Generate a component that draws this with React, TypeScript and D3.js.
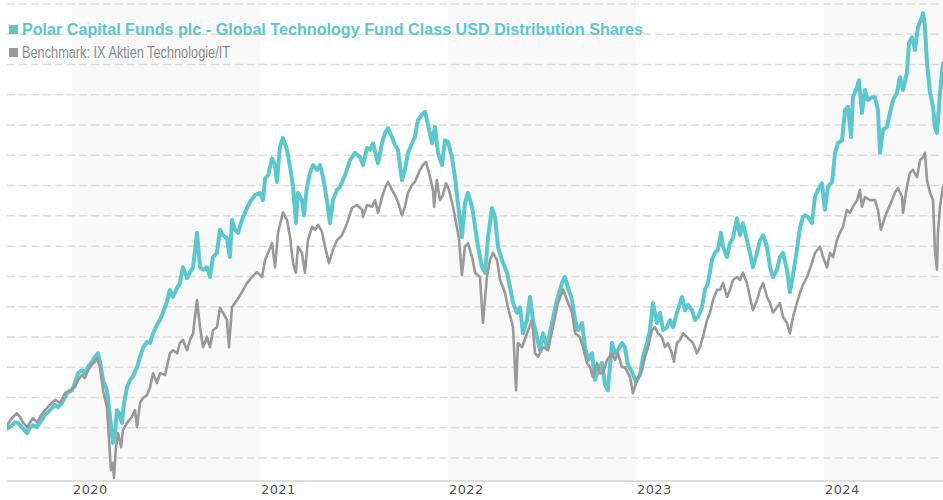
import React from 'react';
import * as d3 from 'd3';

// Dates as decimal years, values as NAV-like index (USD)
const fundDates = [
  2019.654, 2019.681, 2019.697, 2019.713, 2019.739, 2019.761, 2019.777, 2019.793, 2019.814, 2019.830,
  2019.856, 2019.883, 2019.910, 2019.926, 2019.947, 2019.973, 2020.000, 2020.016, 2020.032, 2020.053,
  2020.069, 2020.085, 2020.106, 2020.122, 2020.138, 2020.149, 2020.165, 2020.186, 2020.202, 2020.218,
  2020.229, 2020.239, 2020.250, 2020.266, 2020.277, 2020.293, 2020.309, 2020.324, 2020.346, 2020.362,
  2020.378, 2020.399, 2020.415, 2020.431, 2020.452, 2020.468, 2020.484, 2020.505, 2020.521, 2020.537,
  2020.559, 2020.574, 2020.590, 2020.612, 2020.628, 2020.644, 2020.665, 2020.681, 2020.697, 2020.718,
  2020.734, 2020.750, 2020.771, 2020.787, 2020.803, 2020.824, 2020.840, 2020.851, 2020.867, 2020.883,
  2020.904, 2020.931, 2020.947, 2020.973, 2021.000, 2021.016, 2021.027, 2021.043, 2021.064, 2021.080,
  2021.090, 2021.106, 2021.122, 2021.144, 2021.160, 2021.176, 2021.191, 2021.202, 2021.223, 2021.234,
  2021.250, 2021.266, 2021.282, 2021.303, 2021.319, 2021.335, 2021.356, 2021.372, 2021.388, 2021.410,
  2021.426, 2021.452, 2021.479, 2021.505, 2021.532, 2021.548, 2021.569, 2021.585, 2021.601, 2021.628,
  2021.649, 2021.665, 2021.681, 2021.702, 2021.718, 2021.734, 2021.755, 2021.771, 2021.787, 2021.809,
  2021.824, 2021.840, 2021.862, 2021.878, 2021.894, 2021.915, 2021.931, 2021.947, 2021.968, 2021.984,
  2022.000, 2022.021, 2022.037, 2022.053, 2022.074, 2022.090, 2022.106, 2022.128, 2022.144, 2022.160,
  2022.181, 2022.197, 2022.213, 2022.234, 2022.250, 2022.266, 2022.287, 2022.314, 2022.330, 2022.346,
  2022.367, 2022.383, 2022.399, 2022.420, 2022.436, 2022.452, 2022.473, 2022.489, 2022.505, 2022.527,
  2022.553, 2022.580, 2022.606, 2022.622, 2022.638, 2022.660, 2022.676, 2022.691, 2022.713, 2022.729,
  2022.745, 2022.766, 2022.782, 2022.798, 2022.819, 2022.835, 2022.851, 2022.872, 2022.888, 2022.904,
  2022.926, 2022.941, 2022.957, 2022.979, 2023.000, 2023.021, 2023.037, 2023.059, 2023.074, 2023.090,
  2023.112, 2023.128, 2023.144, 2023.165, 2023.181, 2023.197, 2023.218, 2023.245, 2023.261, 2023.277,
  2023.298, 2023.314, 2023.330, 2023.351, 2023.367, 2023.383, 2023.404, 2023.420, 2023.436, 2023.452,
  2023.463, 2023.484, 2023.500, 2023.516, 2023.537, 2023.553, 2023.569, 2023.590, 2023.606, 2023.622,
  2023.644, 2023.660, 2023.676, 2023.697, 2023.713, 2023.729, 2023.750, 2023.766, 2023.782, 2023.803,
  2023.819, 2023.835, 2023.856, 2023.872, 2023.888, 2023.899, 2023.915, 2023.936, 2023.952, 2023.968,
  2023.989, 2024.005, 2024.021, 2024.043, 2024.059, 2024.074, 2024.096, 2024.112, 2024.128, 2024.144,
  2024.154, 2024.176, 2024.186, 2024.202, 2024.218, 2024.234, 2024.255, 2024.271, 2024.287, 2024.298,
  2024.314, 2024.335, 2024.351, 2024.367, 2024.388, 2024.404, 2024.420, 2024.441, 2024.452, 2024.468,
  2024.484, 2024.500, 2024.521, 2024.527, 2024.537, 2024.548, 2024.553, 2024.564, 2024.580, 2024.590,
  2024.601, 2024.617, 2024.633,
];
const fundValues = [
  44.8, 45.4, 45.9, 45.8, 44.9, 44.1, 45.1, 45.4, 45.1, 45.9,
  47.1, 47.9, 48.8, 48.4, 49.1, 50.7, 51.2, 52.4, 54.0, 54.5,
  54.0, 55.0, 55.9, 56.7, 57.3, 55.9, 52.9, 51.2, 46.8, 42.5,
  44.1, 47.9, 47.4, 45.8, 49.1, 51.7, 52.9, 53.4, 55.0, 56.7,
  58.2, 59.2, 59.0, 60.6, 62.0, 62.8, 64.0, 65.8, 67.8, 66.6,
  68.1, 68.9, 71.5, 69.7, 70.7, 71.5, 77.2, 71.5, 71.1, 71.5,
  69.9, 73.2, 73.9, 77.7, 76.8, 76.3, 73.2, 79.3, 77.7, 77.2,
  79.3, 81.3, 82.3, 83.4, 83.8, 82.6, 86.2, 86.7, 89.5, 88.4,
  85.6, 91.4, 92.9, 90.9, 88.1, 84.8, 78.8, 83.8, 82.6, 80.1,
  84.8, 87.1, 88.4, 87.6, 88.4, 86.4, 82.6, 78.8, 82.6, 84.3,
  84.8, 86.7, 89.2, 90.4, 89.7, 88.4, 91.2, 90.9, 92.0, 88.7,
  92.0, 93.7, 94.5, 93.0, 91.7, 90.9, 85.9, 87.6, 90.4, 92.0,
  93.0, 95.8, 96.7, 97.2, 95.0, 92.0, 94.7, 90.4, 88.4, 92.5,
  92.2, 89.7, 86.4, 82.1, 76.5, 82.1, 83.8, 81.5, 78.2, 74.9,
  71.5, 70.6, 76.5, 81.3, 79.8, 74.9, 72.7, 70.6, 68.2, 65.6,
  64.0, 64.9, 60.6, 62.8, 66.6, 62.8, 60.0, 57.8, 60.6, 58.3,
  62.3, 66.1, 68.9, 69.9, 68.2, 66.1, 62.8, 61.1, 62.3, 58.3,
  56.2, 57.3, 52.9, 54.5, 55.7, 52.1, 51.2, 59.0, 57.3, 57.8,
  59.0, 58.3, 55.4, 54.2, 52.6, 53.7, 56.7, 59.0, 61.1, 65.6,
  62.3, 64.0, 61.1, 61.6, 62.8, 61.6, 64.0, 66.6, 64.4, 65.3,
  64.4, 62.8, 63.3, 64.9, 67.8, 68.9, 72.7, 73.9, 74.4, 77.2,
  74.9, 73.2, 75.5, 76.3, 79.6, 76.8, 78.8, 76.0, 73.9, 71.5,
  73.9, 76.0, 76.8, 74.9, 71.5, 69.9, 71.1, 73.2, 73.9, 71.1,
  67.4, 70.2, 74.4, 78.0, 79.8, 80.1, 79.8, 78.8, 83.1, 84.3,
  85.4, 81.0, 84.8, 85.6, 90.4, 92.0, 92.5, 97.5, 98.0, 93.0,
  99.6, 101.3, 102.4, 97.0, 100.8, 99.1, 99.6, 99.6, 97.5, 90.4,
  94.2, 94.7, 97.0, 99.1, 100.3, 102.9, 100.8, 103.6, 108.5, 109.5,
  107.4, 111.2, 112.8, 113.5, 111.2, 105.2, 103.6, 100.3, 98.0, 94.7,
  93.7, 100.3, 105.2,
];

const benchDates = [
  2019.654, 2019.681, 2019.707, 2019.723, 2019.739, 2019.761, 2019.777, 2019.793, 2019.814, 2019.830,
  2019.856, 2019.883, 2019.910, 2019.936, 2019.963, 2019.989, 2020.016, 2020.032, 2020.053, 2020.069,
  2020.085, 2020.106, 2020.122, 2020.133, 2020.149, 2020.165, 2020.186, 2020.197, 2020.207, 2020.218,
  2020.223, 2020.234, 2020.245, 2020.261, 2020.271, 2020.293, 2020.319, 2020.335, 2020.346, 2020.362,
  2020.378, 2020.399, 2020.415, 2020.431, 2020.452, 2020.468, 2020.495, 2020.521, 2020.537, 2020.559,
  2020.574, 2020.590, 2020.612, 2020.628, 2020.644, 2020.665, 2020.681, 2020.697, 2020.718, 2020.734,
  2020.750, 2020.771, 2020.787, 2020.803, 2020.824, 2020.835, 2020.851, 2020.878, 2020.904, 2020.931,
  2020.957, 2020.984, 2021.011, 2021.027, 2021.043, 2021.064, 2021.080, 2021.096, 2021.122, 2021.144,
  2021.160, 2021.176, 2021.191, 2021.202, 2021.223, 2021.239, 2021.255, 2021.277, 2021.293, 2021.309,
  2021.330, 2021.346, 2021.367, 2021.388, 2021.410, 2021.436, 2021.463, 2021.489, 2021.516, 2021.543,
  2021.548, 2021.569, 2021.596, 2021.612, 2021.628, 2021.649, 2021.665, 2021.681, 2021.702, 2021.718,
  2021.734, 2021.755, 2021.771, 2021.787, 2021.809, 2021.824, 2021.851, 2021.867, 2021.883, 2021.899,
  2021.920, 2021.926, 2021.941, 2021.957, 2021.973, 2021.989, 2022.005, 2022.027, 2022.043, 2022.058,
  2022.074, 2022.090, 2022.106, 2022.128, 2022.144, 2022.170, 2022.186, 2022.207, 2022.223, 2022.239,
  2022.261, 2022.277, 2022.303, 2022.319, 2022.346, 2022.362, 2022.372, 2022.394, 2022.420, 2022.447,
  2022.463, 2022.479, 2022.505, 2022.532, 2022.558, 2022.585, 2022.612, 2022.633, 2022.660, 2022.676,
  2022.702, 2022.718, 2022.739, 2022.755, 2022.771, 2022.793, 2022.809, 2022.824, 2022.846, 2022.872,
  2022.888, 2022.904, 2022.926, 2022.941, 2022.968, 2022.984, 2023.005, 2023.032, 2023.048, 2023.064,
  2023.085, 2023.101, 2023.117, 2023.138, 2023.154, 2023.170, 2023.191, 2023.202, 2023.218, 2023.234,
  2023.250, 2023.271, 2023.287, 2023.303, 2023.324, 2023.340, 2023.356, 2023.378, 2023.394, 2023.410,
  2023.431, 2023.447, 2023.463, 2023.484, 2023.500, 2023.516, 2023.537, 2023.553, 2023.569, 2023.590,
  2023.606, 2023.622, 2023.644, 2023.660, 2023.676, 2023.697, 2023.713, 2023.729, 2023.750, 2023.766,
  2023.782, 2023.803, 2023.819, 2023.835, 2023.856, 2023.872, 2023.888, 2023.910, 2023.936, 2023.952,
  2023.979, 2023.995, 2024.016, 2024.032, 2024.048, 2024.069, 2024.085, 2024.101, 2024.122, 2024.138,
  2024.154, 2024.176, 2024.191, 2024.202, 2024.218, 2024.245, 2024.271, 2024.287, 2024.303, 2024.324,
  2024.340, 2024.362, 2024.378, 2024.394, 2024.415, 2024.420, 2024.441, 2024.457, 2024.473, 2024.495,
  2024.511, 2024.527, 2024.537, 2024.548, 2024.564, 2024.580, 2024.590, 2024.601, 2024.606, 2024.617,
  2024.633,
];
const benchValues = [
  45.4, 46.6, 47.4, 46.8, 45.9, 45.1, 45.9, 46.6, 45.9, 46.8,
  47.9, 48.8, 49.6, 49.1, 50.7, 51.2, 51.7, 52.9, 53.7, 53.2,
  54.5, 55.4, 55.9, 56.5, 55.0, 51.2, 48.4, 43.0, 38.0, 39.2,
  36.7, 41.8, 44.1, 41.8, 44.6, 45.8, 46.8, 47.9, 45.1, 49.1,
  49.9, 50.4, 51.7, 54.0, 52.4, 54.0, 53.7, 57.3, 57.8, 57.3,
  59.0, 59.5, 57.8, 59.5, 60.6, 66.1, 61.6, 58.3, 60.0, 58.3,
  61.1, 61.6, 64.8, 64.0, 62.8, 58.3, 64.9, 66.1, 67.4, 68.9,
  69.9, 70.7, 69.9, 72.7, 73.9, 75.5, 71.5, 77.2, 80.6, 79.3,
  76.5, 72.2, 70.6, 74.9, 73.9, 70.6, 76.0, 78.2, 77.7, 78.5,
  77.3, 74.9, 72.2, 74.4, 76.0, 76.8, 78.8, 81.3, 81.8, 81.0,
  79.8, 81.8, 81.5, 82.6, 80.5, 83.1, 84.6, 85.6, 84.3, 83.4,
  82.3, 80.1, 81.5, 83.8, 85.1, 85.6, 87.6, 88.4, 88.9, 87.1,
  84.3, 81.5, 85.9, 82.6, 83.4, 85.4, 84.3, 81.5, 78.8, 76.3,
  70.2, 74.9, 75.5, 73.2, 70.6, 69.9, 62.3, 69.9, 72.7, 73.9,
  72.7, 69.4, 67.3, 64.9, 61.6, 51.2, 59.0, 58.3, 60.6, 62.8,
  57.3, 56.7, 58.3, 57.8, 61.6, 65.6, 67.8, 66.1, 64.0, 60.6,
  60.0, 58.3, 55.7, 55.0, 53.4, 55.7, 54.0, 54.0, 56.2, 57.3,
  56.2, 57.3, 55.0, 55.0, 53.4, 50.7, 52.9, 54.5, 56.7, 58.3,
  61.1, 61.6, 60.6, 60.0, 58.3, 59.0, 57.3, 55.9, 59.0, 59.5,
  60.6, 60.0, 59.5, 59.0, 57.3, 58.3, 60.0, 62.8, 64.0, 66.1,
  67.8, 67.8, 68.9, 66.6, 67.8, 69.4, 69.9, 69.4, 70.6, 68.9,
  66.6, 64.4, 66.1, 67.8, 68.9, 66.6, 65.6, 64.0, 64.9, 65.6,
  63.3, 62.3, 60.6, 63.3, 65.6, 67.3, 68.6, 69.9, 72.2, 73.9,
  74.9, 73.2, 71.5, 73.9, 73.2, 76.0, 77.2, 78.2, 81.0, 80.5,
  81.5, 82.6, 84.3, 81.5, 83.1, 82.6, 82.6, 81.0, 77.7, 79.8,
  81.0, 82.6, 83.9, 84.6, 83.1, 80.5, 84.8, 87.1, 87.6, 86.4,
  89.2, 89.7, 90.4, 85.9, 83.8, 82.6, 74.4, 71.1, 77.2, 81.5,
  84.8,
];

const yearTicks = [2020, 2021, 2022, 2023, 2024];
const shadedYears = [2020, 2022, 2024];
const gridValues = [40, 45, 50, 55, 60, 65, 70, 75, 80, 85, 90, 95, 100, 105, 110, 115];
const fundLabel = 'Polar Capital Funds plc - Global Technology Fund Class USD Distribution Shares';
const benchLabel = 'Benchmark: IX Aktien Technologie/IT';

const FUND_COLOR = '#5cc7cd';
const BENCH_COLOR = '#999999';

export default function App() {
  const W = 943;
  const H = 500;
  const left = 7;
  const right = 943;
  const bottom = 481;

  const x = d3.scaleLinear().domain([2020, 2024]).range([72, 824]);
  const y = d3.scaleLinear().domain([40, 115]).range([458, 4]);

  const makePath = (dates: number[], vals: number[]) =>
    d3
      .line<number>()
      .x((_, i) => x(dates[i]))
      .y((d) => y(d))
      .curve(d3.curveLinear)(vals) || '';

  const fundPath = makePath(fundDates, fundValues);
  const benchPath = makePath(benchDates, benchValues);

  return (
    <svg
      width={W}
      height={H}
      style={{ position: 'absolute', left: 0, top: 0, background: '#fff' }}
    >
      <defs>
        <clipPath id="plotClip">
          <rect x={left} y={0} width={right - left} height={bottom} />
        </clipPath>
      </defs>
      {shadedYears.map((yr) => {
        const x0 = x(yr);
        const x1 = Math.min(x(yr + 1), right);
        return <rect key={yr} x={x0} y={0} width={x1 - x0} height={bottom} fill="#f8f8f8" />;
      })}
      {gridValues.map((v) => (
        <line
          key={v}
          x1={left}
          x2={right}
          y1={y(v)}
          y2={y(v)}
          stroke="#dddddd"
          strokeWidth={1.5}
          strokeDasharray="8 4"
        />
      ))}
      <line x1={left} x2={right} y1={bottom} y2={bottom} stroke="#dddddd" strokeWidth={2} />
      {yearTicks.map((yr) => (
        <text
          key={yr}
          x={x(yr) + 1}
          y={494}
          fontFamily="'DejaVu Sans', Verdana, sans-serif"
          fontSize={13}
          fill="#555555"
          letterSpacing={0.4}
        >
          {yr}
        </text>
      ))}
      <g clipPath="url(#plotClip)">
        <path
          d={fundPath}
          fill="none"
          stroke={FUND_COLOR}
          strokeWidth={4}
          strokeLinejoin="round"
          strokeLinecap="round"
        />
        <path
          d={benchPath}
          fill="none"
          stroke={BENCH_COLOR}
          strokeWidth={2.6}
          strokeLinejoin="round"
          strokeLinecap="round"
        />
      </g>
      <rect x={9} y={25} width={9} height={9} fill={FUND_COLOR} />
      <text
        x={22}
        y={35}
        fontFamily="'Liberation Sans Narrow', 'Arial Narrow', 'Liberation Sans', Arial, sans-serif"
        fontSize={16}
        fontWeight="bold"
        fill={FUND_COLOR}
        textLength={621}
        lengthAdjust="spacingAndGlyphs"
      >
        {fundLabel}
      </text>
      <rect x={9} y={48} width={9} height={9} fill={BENCH_COLOR} />
      <text
        x={22}
        y={58}
        fontFamily="'Liberation Sans Narrow', 'Arial Narrow', 'Liberation Sans', Arial, sans-serif"
        fontSize={16}
        fill="#8c8c8c"
        textLength={208}
        lengthAdjust="spacingAndGlyphs"
      >
        {benchLabel}
      </text>
    </svg>
  );
}
